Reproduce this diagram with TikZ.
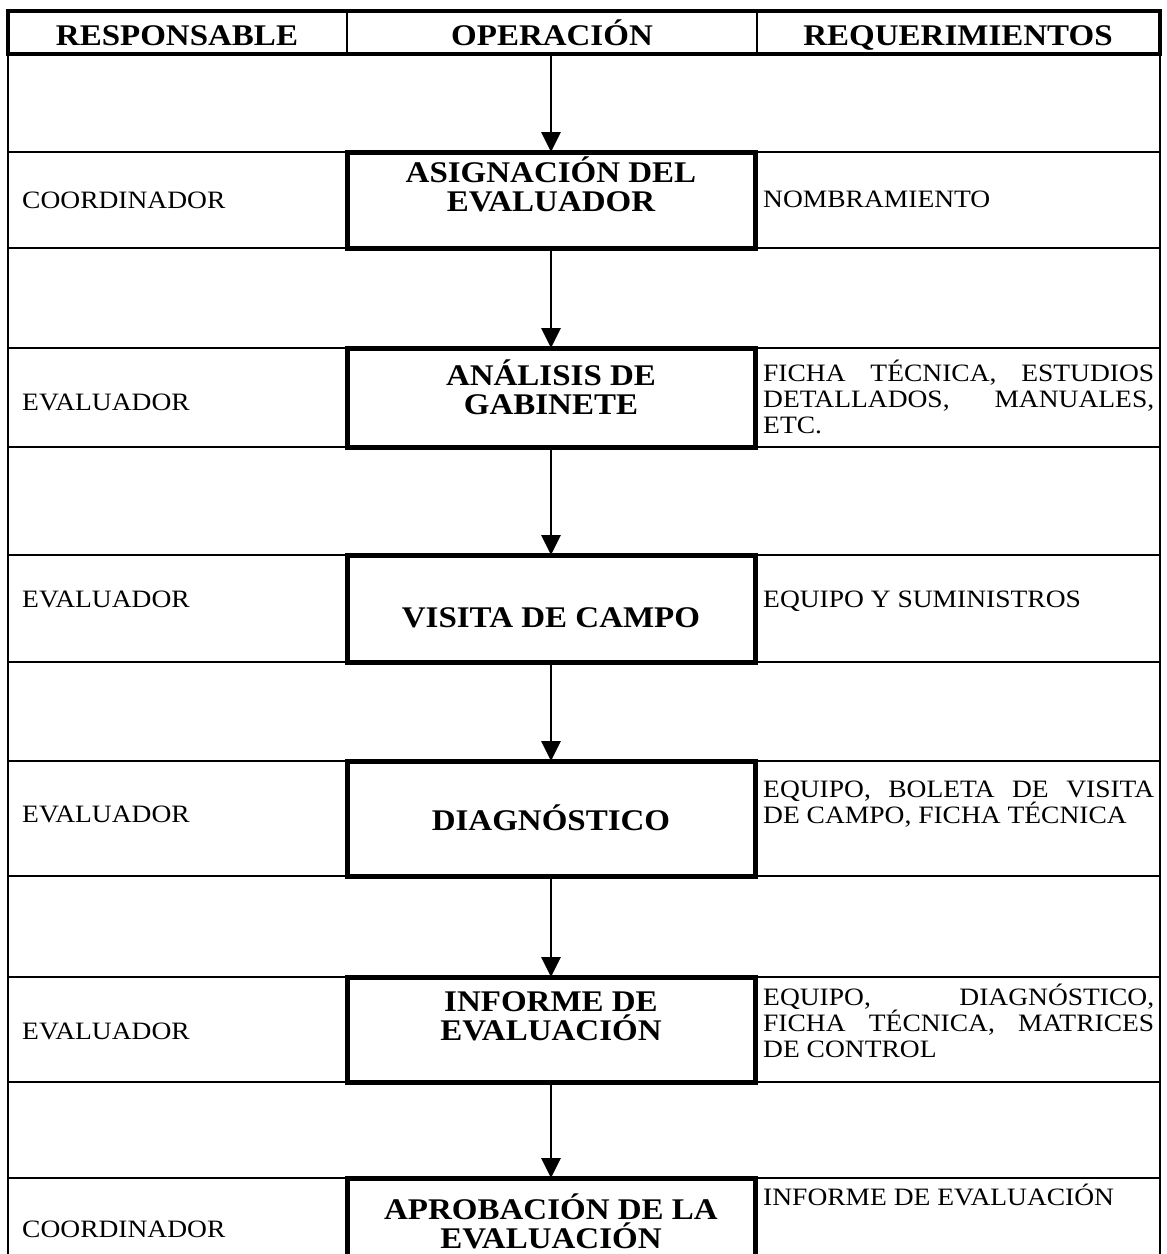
\documentclass[tikz,border=0pt]{standalone}
\usepackage{fontspec}
\setmainfont{Liberation Serif}[FakeStretch=1.1]
\usetikzlibrary{arrows.meta}
\tolerance=9999
\hyphenpenalty=10000
\hbadness=10000
\begin{document}
\begin{tikzpicture}[x=1pt,y=-1pt,
  rowline/.style={line width=2.2pt},
  hdrframe/.style={line width=4.5pt},
  opbox/.style={draw, line width=5pt, minimum width=408pt, inner sep=0pt, outer sep=0pt},
  optext/.style={anchor=base, align=center, inner sep=0pt, font=\fontsize{30}{28.5}\selectfont\bfseries},
  resp/.style={anchor=base west, inner sep=0pt, font=\fontsize{25}{26}\selectfont},
  req/.style={anchor=base west, inner sep=0pt, text width=391pt, align=justify, font=\fontsize{25}{26}\selectfont},
  hdr/.style={anchor=base, inner sep=0pt, font=\fontsize{30}{30}\selectfont\bfseries},
  flow/.style={line width=2.8pt, -{Triangle[width=19pt,length=20pt]}}
]
\useasboundingbox (0,0) rectangle (1167,1254);
\clip (0,0) rectangle (1167,1254);

% outer borders
\draw[rowline] (8,11) -- (8,1300);
\draw[line width=2.8pt] (1160,11) -- (1160,1300);

% row lines
\foreach \yy in {152,248,348,447,555,662,761,876,977,1082,1178}
  \draw[rowline] (8,\yy) -- (1160,\yy);

% header
\draw[hdrframe] (8,11) rectangle (1160,54);
\draw[rowline] (347,11) -- (347,54);
\draw[rowline] (757,11) -- (757,54);
\node[hdr] (h1) at (177,45) {RESPONSABLE};
\node[hdr] (h2) at (552,45) {OPERACIÓN};
\node[hdr] (h3) at (958,45) {REQUERIMIENTOS};
\coordinate (start) at (551,56);

% operation boxes
\node[opbox, minimum height=96pt]  (b1) at (551,200) {};
\node[opbox, minimum height=99pt]  (b2) at (551,397.5) {};
\node[opbox, minimum height=107pt] (b3) at (551,608.5) {};
\node[opbox, minimum height=115pt] (b4) at (551,818.5) {};
\node[opbox, minimum height=105pt] (b5) at (551,1029.5) {};
\node[opbox, minimum height=150pt] (b6) at (551,1253) {};

% operation labels (base = baseline of last line)
\node[optext] (t1) at (551,211) {ASIGNACIÓN DEL\\EVALUADOR};
\node[optext] (t2) at (551,414) {ANÁLISIS DE\\GABINETE};
\node[optext] (t3) at (551,627) {VISITA DE CAMPO};
\node[optext] (t4) at (551,830) {DIAGNÓSTICO};
\node[optext] (t5) at (551,1040) {INFORME DE\\EVALUACIÓN};
\node[optext] (t6) at (551,1248) {APROBACIÓN DE LA\\EVALUACIÓN};

% responsible
\node[resp] (r1) at (22,208) {COORDINADOR};
\node[resp] (r2) at (22,410) {EVALUADOR};
\node[resp] (r3) at (22,607) {EVALUADOR};
\node[resp] (r4) at (22,822) {EVALUADOR};
\node[resp] (r5) at (22,1039) {EVALUADOR};
\node[resp] (r6) at (22,1237) {COORDINADOR};

% requirements
\node[req] (q1) at (763,207) {NOMBRAMIENTO};
\node[req] (q2) at (763,381) {FICHA TÉCNICA, ESTUDIOS\linebreak DETALLADOS, MANUALES,\linebreak ETC.};
\node[req] (q3) at (763,607) {EQUIPO Y SUMINISTROS};
\node[req] (q4) at (763,797) {EQUIPO, BOLETA DE VISITA\linebreak DE CAMPO, FICHA TÉCNICA};
\node[req] (q5) at (763,1005) {EQUIPO, DIAGNÓSTICO,\linebreak FICHA TÉCNICA, MATRICES\linebreak DE CONTROL};
\node[req] (q6) at (763,1205) {INFORME DE EVALUACIÓN};

% flow arrows
\draw[flow] (start) -- (b1.north);
\draw[flow] (b1.south) -- (b2.north);
\draw[flow] (b2.south) -- (b3.north);
\draw[flow] (b3.south) -- (b4.north);
\draw[flow] (b4.south) -- (b5.north);
\draw[flow] (b5.south) -- (b6.north);
\end{tikzpicture}
\end{document}
